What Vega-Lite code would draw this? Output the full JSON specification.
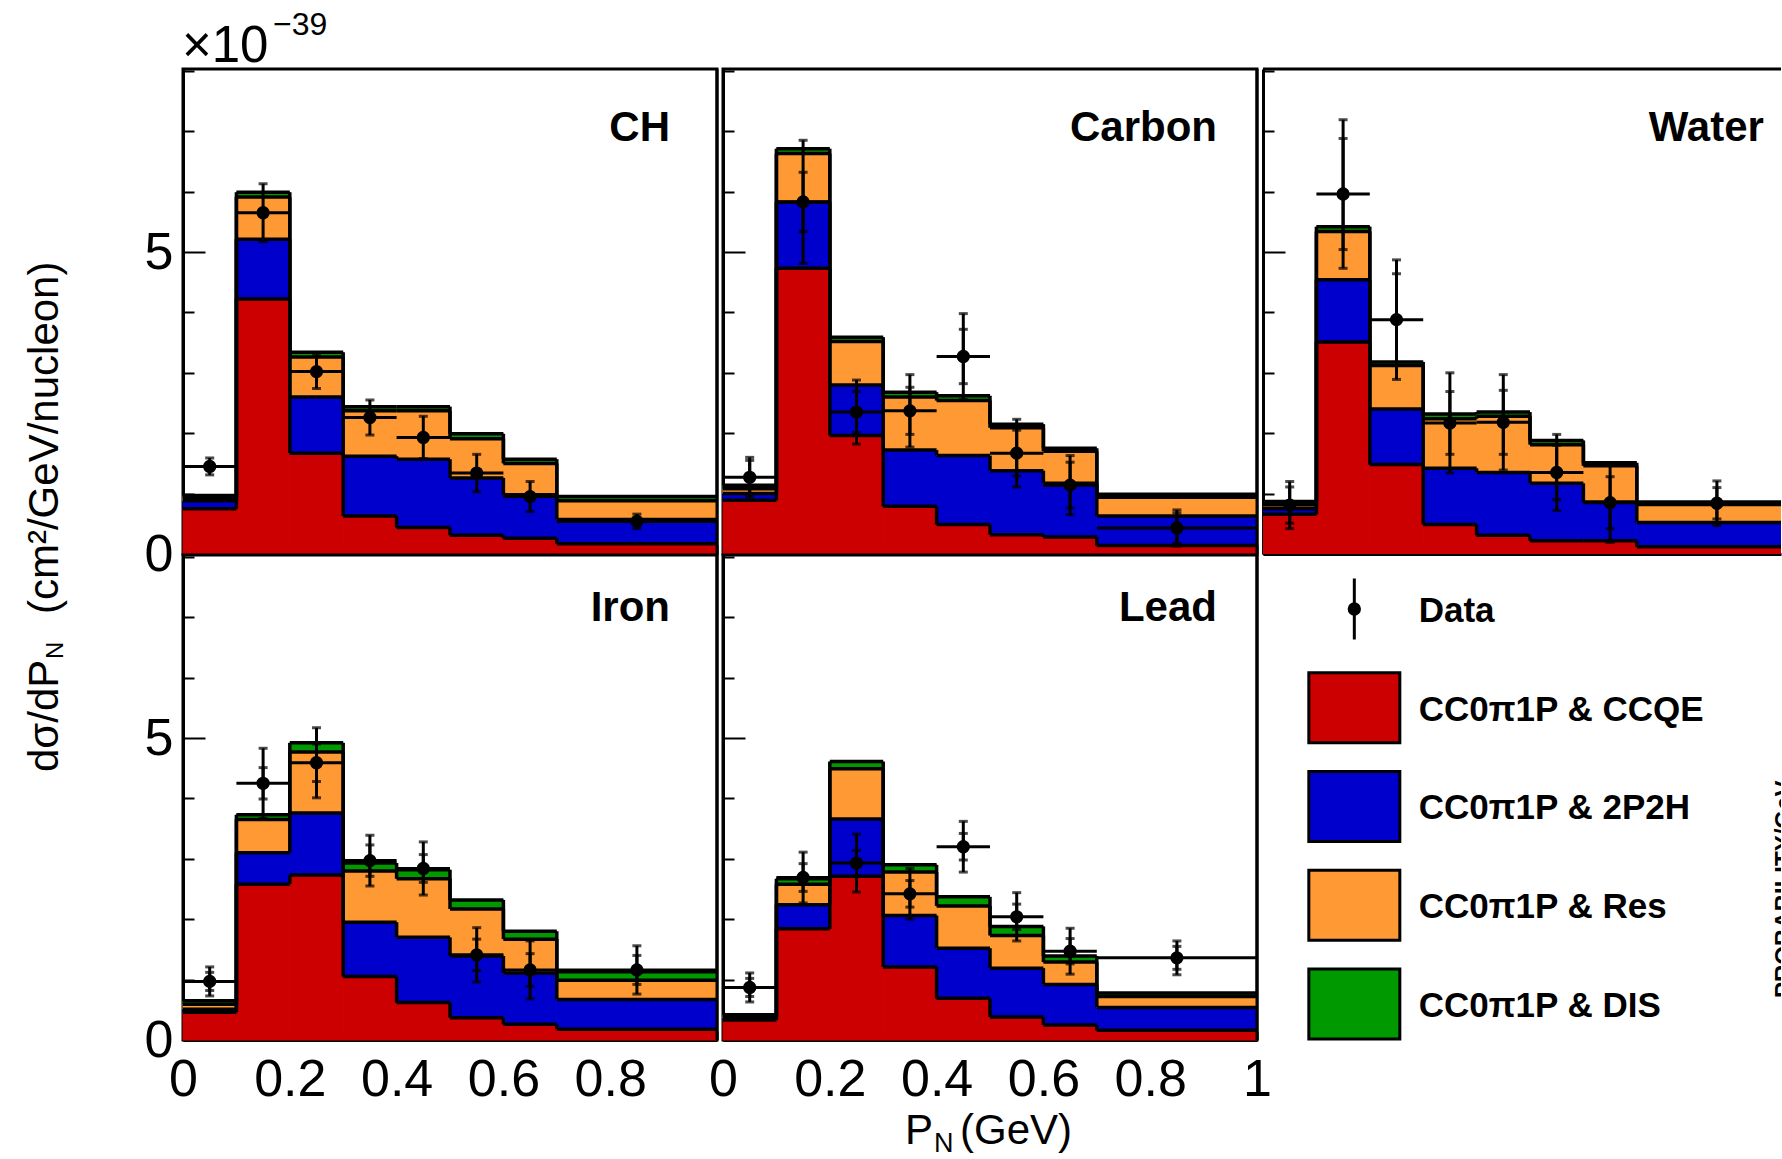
{
  "$schema": "https://vega.github.io/schema/vega-lite/v6.json",
  "background": "white",
  "padding": {"left": 22, "top": 7, "right": 0, "bottom": 0},
  "config": {
    "view": {"stroke": "black", "strokeWidth": 3},
    "font": "Liberation Sans",
    "axis": {
      "grid": false, "domain": true, "domainColor": "black", "domainWidth": 3,
      "tickColor": "black", "tickWidth": 2, "labelColor": "black",
      "labelFont": "Liberation Sans", "labelFontSize": 52,
      "labelFlush": false, "labelOverlap": false, "labelBound": false, "zindex": 1
    },
    "axisY": {"labelBaseline": "middle"},
    "text": {"font": "Liberation Sans", "color": "black"}
  },
  "datasets": {
    "stack": [
      {"t":"CH","lo":0,"hi":0.1,"CCQE":0.75,"2P2H":0.13,"Res":0.06,"DIS":0.03},
      {"t":"CH","lo":0.1,"hi":0.2,"CCQE":4.22,"2P2H":0.99,"Res":0.70,"DIS":0.08},
      {"t":"CH","lo":0.2,"hi":0.3,"CCQE":1.67,"2P2H":0.93,"Res":0.66,"DIS":0.08},
      {"t":"CH","lo":0.3,"hi":0.4,"CCQE":0.63,"2P2H":0.99,"Res":0.75,"DIS":0.07},
      {"t":"CH","lo":0.4,"hi":0.5,"CCQE":0.44,"2P2H":1.13,"Res":0.80,"DIS":0.07},
      {"t":"CH","lo":0.5,"hi":0.6,"CCQE":0.31,"2P2H":0.95,"Res":0.65,"DIS":0.08},
      {"t":"CH","lo":0.6,"hi":0.7,"CCQE":0.26,"2P2H":0.72,"Res":0.52,"DIS":0.07},
      {"t":"CH","lo":0.7,"hi":1.0,"CCQE":0.17,"2P2H":0.40,"Res":0.31,"DIS":0.07},
      {"t":"Carbon","lo":0,"hi":0.1,"CCQE":0.89,"2P2H":0.11,"Res":0.08,"DIS":0.06},
      {"t":"Carbon","lo":0.1,"hi":0.2,"CCQE":4.73,"2P2H":1.10,"Res":0.80,"DIS":0.08},
      {"t":"Carbon","lo":0.2,"hi":0.3,"CCQE":1.96,"2P2H":0.84,"Res":0.72,"DIS":0.07},
      {"t":"Carbon","lo":0.3,"hi":0.4,"CCQE":0.79,"2P2H":0.93,"Res":0.88,"DIS":0.08},
      {"t":"Carbon","lo":0.4,"hi":0.5,"CCQE":0.49,"2P2H":1.14,"Res":0.91,"DIS":0.08},
      {"t":"Carbon","lo":0.5,"hi":0.6,"CCQE":0.32,"2P2H":1.06,"Res":0.71,"DIS":0.06},
      {"t":"Carbon","lo":0.6,"hi":0.7,"CCQE":0.28,"2P2H":0.89,"Res":0.53,"DIS":0.05},
      {"t":"Carbon","lo":0.7,"hi":1.0,"CCQE":0.14,"2P2H":0.49,"Res":0.31,"DIS":0.05},
      {"t":"Water","lo":0,"hi":0.1,"CCQE":0.66,"2P2H":0.09,"Res":0.07,"DIS":0.05},
      {"t":"Water","lo":0.1,"hi":0.2,"CCQE":3.51,"2P2H":1.03,"Res":0.80,"DIS":0.08},
      {"t":"Water","lo":0.2,"hi":0.3,"CCQE":1.48,"2P2H":0.92,"Res":0.72,"DIS":0.06},
      {"t":"Water","lo":0.3,"hi":0.4,"CCQE":0.49,"2P2H":0.93,"Res":0.82,"DIS":0.08},
      {"t":"Water","lo":0.4,"hi":0.5,"CCQE":0.31,"2P2H":1.04,"Res":0.93,"DIS":0.07},
      {"t":"Water","lo":0.5,"hi":0.6,"CCQE":0.22,"2P2H":0.95,"Res":0.64,"DIS":0.07},
      {"t":"Water","lo":0.6,"hi":0.7,"CCQE":0.22,"2P2H":0.64,"Res":0.60,"DIS":0.05},
      {"t":"Water","lo":0.7,"hi":1.0,"CCQE":0.12,"2P2H":0.40,"Res":0.30,"DIS":0.04},
      {"t":"Iron","lo":0,"hi":0.1,"CCQE":0.46,"2P2H":0.05,"Res":0.08,"DIS":0.06},
      {"t":"Iron","lo":0.1,"hi":0.2,"CCQE":2.58,"2P2H":0.52,"Res":0.55,"DIS":0.08},
      {"t":"Iron","lo":0.2,"hi":0.3,"CCQE":2.73,"2P2H":1.03,"Res":1.01,"DIS":0.15},
      {"t":"Iron","lo":0.3,"hi":0.4,"CCQE":1.05,"2P2H":0.90,"Res":0.85,"DIS":0.13},
      {"t":"Iron","lo":0.4,"hi":0.5,"CCQE":0.62,"2P2H":1.08,"Res":0.97,"DIS":0.15},
      {"t":"Iron","lo":0.5,"hi":0.6,"CCQE":0.37,"2P2H":1.02,"Res":0.78,"DIS":0.15},
      {"t":"Iron","lo":0.6,"hi":0.7,"CCQE":0.26,"2P2H":0.85,"Res":0.56,"DIS":0.13},
      {"t":"Iron","lo":0.7,"hi":1.0,"CCQE":0.18,"2P2H":0.49,"Res":0.32,"DIS":0.14},
      {"t":"Lead","lo":0,"hi":0.1,"CCQE":0.33,"2P2H":0.03,"Res":0.03,"DIS":0.03},
      {"t":"Lead","lo":0.1,"hi":0.2,"CCQE":1.84,"2P2H":0.40,"Res":0.34,"DIS":0.09},
      {"t":"Lead","lo":0.2,"hi":0.3,"CCQE":2.71,"2P2H":0.95,"Res":0.83,"DIS":0.12},
      {"t":"Lead","lo":0.3,"hi":0.4,"CCQE":1.21,"2P2H":0.85,"Res":0.72,"DIS":0.12},
      {"t":"Lead","lo":0.4,"hi":0.5,"CCQE":0.69,"2P2H":0.83,"Res":0.70,"DIS":0.15},
      {"t":"Lead","lo":0.5,"hi":0.6,"CCQE":0.38,"2P2H":0.81,"Res":0.54,"DIS":0.15},
      {"t":"Lead","lo":0.6,"hi":0.7,"CCQE":0.25,"2P2H":0.67,"Res":0.37,"DIS":0.10},
      {"t":"Lead","lo":0.7,"hi":1.0,"CCQE":0.16,"2P2H":0.38,"Res":0.18,"DIS":0.06}
    ],
    "points": [
      {"t":"CH","lo":0,"hi":0.1,"pn":0.05,"val":1.45,"tot":0.14,"stat":0.05},
      {"t":"CH","lo":0.1,"hi":0.2,"pn":0.15,"val":5.65,"tot":0.48,"stat":0.05},
      {"t":"CH","lo":0.2,"hi":0.3,"pn":0.25,"val":3.02,"tot":0.28,"stat":0.05},
      {"t":"CH","lo":0.3,"hi":0.4,"pn":0.35,"val":2.26,"tot":0.29,"stat":0.05},
      {"t":"CH","lo":0.4,"hi":0.5,"pn":0.45,"val":1.93,"tot":0.35,"stat":0.05},
      {"t":"CH","lo":0.5,"hi":0.6,"pn":0.55,"val":1.34,"tot":0.31,"stat":0.05},
      {"t":"CH","lo":0.6,"hi":0.7,"pn":0.65,"val":0.95,"tot":0.25,"stat":0.05},
      {"t":"CH","lo":0.7,"hi":1.0,"pn":0.85,"val":0.54,"tot":0.12,"stat":0.05},
      {"t":"Carbon","lo":0,"hi":0.1,"pn":0.05,"val":1.27,"tot":0.33,"stat":0.28},
      {"t":"Carbon","lo":0.1,"hi":0.2,"pn":0.15,"val":5.83,"tot":1.02,"stat":0.49},
      {"t":"Carbon","lo":0.2,"hi":0.3,"pn":0.25,"val":2.35,"tot":0.53,"stat":0.34},
      {"t":"Carbon","lo":0.3,"hi":0.4,"pn":0.35,"val":2.37,"tot":0.60,"stat":0.39},
      {"t":"Carbon","lo":0.4,"hi":0.5,"pn":0.45,"val":3.27,"tot":0.71,"stat":0.45},
      {"t":"Carbon","lo":0.5,"hi":0.6,"pn":0.55,"val":1.67,"tot":0.56,"stat":0.38},
      {"t":"Carbon","lo":0.6,"hi":0.7,"pn":0.65,"val":1.14,"tot":0.49,"stat":0.38},
      {"t":"Carbon","lo":0.7,"hi":1.0,"pn":0.85,"val":0.43,"tot":0.30,"stat":0.25},
      {"t":"Water","lo":0,"hi":0.1,"pn":0.05,"val":0.81,"tot":0.39,"stat":0.30},
      {"t":"Water","lo":0.1,"hi":0.2,"pn":0.15,"val":5.96,"tot":1.23,"stat":0.92},
      {"t":"Water","lo":0.2,"hi":0.3,"pn":0.25,"val":3.88,"tot":0.99,"stat":0.76},
      {"t":"Water","lo":0.3,"hi":0.4,"pn":0.35,"val":2.17,"tot":0.83,"stat":0.52},
      {"t":"Water","lo":0.4,"hi":0.5,"pn":0.45,"val":2.18,"tot":0.79,"stat":0.53},
      {"t":"Water","lo":0.5,"hi":0.6,"pn":0.55,"val":1.35,"tot":0.63,"stat":0.45},
      {"t":"Water","lo":0.6,"hi":0.7,"pn":0.65,"val":0.85,"tot":0.66,"stat":0.43},
      {"t":"Water","lo":0.7,"hi":1.0,"pn":0.85,"val":0.84,"tot":0.37,"stat":0.26},
      {"t":"Iron","lo":0,"hi":0.1,"pn":0.05,"val":0.97,"tot":0.24,"stat":0.15},
      {"t":"Iron","lo":0.1,"hi":0.2,"pn":0.15,"val":4.25,"tot":0.58,"stat":0.26},
      {"t":"Iron","lo":0.2,"hi":0.3,"pn":0.25,"val":4.59,"tot":0.58,"stat":0.31},
      {"t":"Iron","lo":0.3,"hi":0.4,"pn":0.35,"val":2.97,"tot":0.42,"stat":0.26},
      {"t":"Iron","lo":0.4,"hi":0.5,"pn":0.45,"val":2.84,"tot":0.44,"stat":0.23},
      {"t":"Iron","lo":0.5,"hi":0.6,"pn":0.55,"val":1.41,"tot":0.45,"stat":0.26},
      {"t":"Iron","lo":0.6,"hi":0.7,"pn":0.65,"val":1.16,"tot":0.48,"stat":0.27},
      {"t":"Iron","lo":0.7,"hi":1.0,"pn":0.85,"val":1.16,"tot":0.40,"stat":0.24},
      {"t":"Lead","lo":0,"hi":0.1,"pn":0.05,"val":0.87,"tot":0.24,"stat":0.15},
      {"t":"Lead","lo":0.1,"hi":0.2,"pn":0.15,"val":2.69,"tot":0.42,"stat":0.23},
      {"t":"Lead","lo":0.2,"hi":0.3,"pn":0.25,"val":2.93,"tot":0.48,"stat":0.21},
      {"t":"Lead","lo":0.3,"hi":0.4,"pn":0.35,"val":2.42,"tot":0.42,"stat":0.22},
      {"t":"Lead","lo":0.4,"hi":0.5,"pn":0.45,"val":3.20,"tot":0.42,"stat":0.22},
      {"t":"Lead","lo":0.5,"hi":0.6,"pn":0.55,"val":2.04,"tot":0.40,"stat":0.21},
      {"t":"Lead","lo":0.6,"hi":0.7,"pn":0.65,"val":1.47,"tot":0.38,"stat":0.21},
      {"t":"Lead","lo":0.7,"hi":1.0,"pn":0.85,"val":1.36,"tot":0.28,"stat":0.19}
    ],
    "legend": [
      {"idx":0,"label":"Data","mode":null},
      {"idx":1,"label":"CC0π1P & CCQE","mode":"CCQE"},
      {"idx":2,"label":"CC0π1P & 2P2H","mode":"2P2H"},
      {"idx":3,"label":"CC0π1P & Res","mode":"Res"},
      {"idx":4,"label":"CC0π1P & DIS","mode":"DIS"}
    ]
  },
  "columns": 3,
  "spacing": {"row": 1, "column": 6},
  "bounds": "flush",
  "concat": [
    {
      "width": 534, "height": 485,
      "layer": [
        {
          "data": {"name": "stack"},
          "transform": [
            {"filter": "datum.t === 'CH'"},
            {"fold": ["CCQE", "2P2H", "Res", "DIS"], "as": ["mode", "v"]},
            {"calculate": "indexof(['CCQE','2P2H','Res','DIS'], datum.mode)", "as": "k"},
            {"window": [{"op": "sum", "field": "v", "as": "top"}], "groupby": ["lo"], "sort": [{"field": "k", "order": "ascending"}], "frame": [null, 0]},
            {"calculate": "datum.top - datum.v", "as": "base"},
            {"window": [{"op": "lag", "field": "top", "as": "prev"}], "groupby": ["mode"], "sort": [{"field": "lo", "order": "ascending"}]}
          ],
          "layer": [
            {"mark": {"type": "rect", "strokeWidth": 1},
             "encoding": {
               "x": {"field": "lo", "type": "quantitative", "title": null, "scale": {"domain": [0, 1], "nice": false, "zero": false},
                     "axis": {"title": null, "values": [0,0.05,0.1,0.15,0.2,0.25,0.3,0.35,0.4,0.45,0.5,0.55,0.6,0.65,0.7,0.75,0.8,0.85,0.9,0.95,1],
                              "tickSize": {"condition": {"test": "abs(datum.value*10-round(datum.value*10)) < 0.01", "value": -9}, "value": -5},
                              "labels": false}},
               "x2": {"field": "hi", "title": null},
               "y": {"field": "base", "type": "quantitative", "title": null, "scale": {"domain": [0, 8.03], "nice": false, "zero": false},
                     "axis": {"title": null, "values": [0,1,2,3,4,5,6,7,8],
                              "tickSize": {"condition": {"test": "datum.value % 5 === 0", "value": -22}, "value": -11},
                              "labelExpr": "datum.value === 0 ? '0' : datum.value === 5 ? '5' : ''", "labelPadding": 32}},
               "y2": {"field": "top", "title": null},
               "color": {"field": "mode", "type": "nominal", "scale": {"domain": ["CCQE","2P2H","Res","DIS"], "range": ["#cc0000","#0000cc","#ff9933","#009900"]}, "legend": null},
               "stroke": {"field": "mode", "type": "nominal", "scale": {"domain": ["CCQE","2P2H","Res","DIS"], "range": ["#cc0000","#0000cc","#ff9933","#009900"]}, "legend": null}
             }},
            {"mark": {"type": "rule", "color": "black", "strokeWidth": 3.5},
             "encoding": {"x": {"field": "lo", "type": "quantitative", "title": null}, "x2": {"field": "hi", "title": null}, "y": {"field": "top", "type": "quantitative", "title": null}}},
            {"transform": [{"filter": "datum.prev != null"}],
             "mark": {"type": "rule", "color": "black", "strokeWidth": 3.5},
             "encoding": {"x": {"field": "lo", "type": "quantitative", "title": null}, "y": {"field": "prev", "type": "quantitative", "title": null}, "y2": {"field": "top", "title": null}}}
          ]
        },
        {
          "data": {"name": "points"},
          "transform": [{"filter": "datum.t === 'CH'"}],
          "layer": [
            {"mark": {"type": "rule", "color": "black", "strokeWidth": 3},
             "encoding": {"x": {"field": "lo", "type": "quantitative", "title": null}, "x2": {"field": "hi", "title": null}, "y": {"field": "val", "type": "quantitative", "title": null}}},
            {"mark": {"type": "errorbar", "color": "black", "thickness": 3, "rule": {"strokeWidth": 3}, "ticks": {"size": 9, "thickness": 3, "color": "black"}},
             "encoding": {"x": {"field": "pn", "type": "quantitative", "title": null}, "y": {"field": "val", "type": "quantitative", "title": null}, "yError": {"field": "tot"}}},
            {"mark": {"type": "errorbar", "color": "black", "thickness": 3, "rule": {"strokeWidth": 3}, "ticks": {"size": 9, "thickness": 3, "color": "black"}},
             "encoding": {"x": {"field": "pn", "type": "quantitative", "title": null}, "y": {"field": "val", "type": "quantitative", "title": null}, "yError": {"field": "stat"}}},
            {"mark": {"type": "point", "shape": "circle", "filled": true, "size": 177, "color": "black", "opacity": 1},
             "encoding": {"x": {"field": "pn", "type": "quantitative", "title": null}, "y": {"field": "val", "type": "quantitative", "title": null}}}
          ]
        },
        {"data": {"values": [{"name": "CH"}]},
         "mark": {"type": "text", "fontWeight": "bold", "fontSize": 42, "align": "right", "baseline": "alphabetic"},
         "encoding": {"x": {"datum": 0.912}, "y": {"datum": 6.838}, "text": {"field": "name"}}},
        {"data": {"values": [{}]},
         "mark": {"type": "text", "text": "×10", "fontSize": 51, "align": "left", "baseline": "alphabetic"},
         "encoding": {"x": {"datum": -0.002}, "y": {"datum": 8.146}}},
        {"data": {"values": [{}]},
         "mark": {"type": "text", "text": "−39", "fontSize": 32, "align": "left", "baseline": "alphabetic"},
         "encoding": {"x": {"datum": 0.1685}, "y": {"datum": 8.593}}},
        {"data": {"values": [{}]},
         "mark": {"type": "rule", "color": "black", "strokeWidth": 3},
         "encoding": {"x": {"datum": 1}}}
      ]
    },
    {
      "width": 534, "height": 485,
      "layer": [
        {
          "data": {"name": "stack"},
          "transform": [
            {"filter": "datum.t === 'Carbon'"},
            {"fold": ["CCQE", "2P2H", "Res", "DIS"], "as": ["mode", "v"]},
            {"calculate": "indexof(['CCQE','2P2H','Res','DIS'], datum.mode)", "as": "k"},
            {"window": [{"op": "sum", "field": "v", "as": "top"}], "groupby": ["lo"], "sort": [{"field": "k", "order": "ascending"}], "frame": [null, 0]},
            {"calculate": "datum.top - datum.v", "as": "base"},
            {"window": [{"op": "lag", "field": "top", "as": "prev"}], "groupby": ["mode"], "sort": [{"field": "lo", "order": "ascending"}]}
          ],
          "layer": [
            {"mark": {"type": "rect", "strokeWidth": 1},
             "encoding": {
               "x": {"field": "lo", "type": "quantitative", "title": null, "scale": {"domain": [0, 1], "nice": false, "zero": false},
                     "axis": {"title": null, "values": [0,0.05,0.1,0.15,0.2,0.25,0.3,0.35,0.4,0.45,0.5,0.55,0.6,0.65,0.7,0.75,0.8,0.85,0.9,0.95,1],
                              "tickSize": {"condition": {"test": "abs(datum.value*10-round(datum.value*10)) < 0.01", "value": -9}, "value": -5},
                              "labels": false}},
               "x2": {"field": "hi", "title": null},
               "y": {"field": "base", "type": "quantitative", "title": null, "scale": {"domain": [0, 8.03], "nice": false, "zero": false},
                     "axis": {"title": null, "values": [0,1,2,3,4,5,6,7,8],
                              "tickSize": {"condition": {"test": "datum.value % 5 === 0", "value": -22}, "value": -11},
                              "labels": false}},
               "y2": {"field": "top", "title": null},
               "color": {"field": "mode", "type": "nominal", "scale": {"domain": ["CCQE","2P2H","Res","DIS"], "range": ["#cc0000","#0000cc","#ff9933","#009900"]}, "legend": null},
               "stroke": {"field": "mode", "type": "nominal", "scale": {"domain": ["CCQE","2P2H","Res","DIS"], "range": ["#cc0000","#0000cc","#ff9933","#009900"]}, "legend": null}
             }},
            {"mark": {"type": "rule", "color": "black", "strokeWidth": 3.5},
             "encoding": {"x": {"field": "lo", "type": "quantitative", "title": null}, "x2": {"field": "hi", "title": null}, "y": {"field": "top", "type": "quantitative", "title": null}}},
            {"transform": [{"filter": "datum.prev != null"}],
             "mark": {"type": "rule", "color": "black", "strokeWidth": 3.5},
             "encoding": {"x": {"field": "lo", "type": "quantitative", "title": null}, "y": {"field": "prev", "type": "quantitative", "title": null}, "y2": {"field": "top", "title": null}}}
          ]
        },
        {
          "data": {"name": "points"},
          "transform": [{"filter": "datum.t === 'Carbon'"}],
          "layer": [
            {"mark": {"type": "rule", "color": "black", "strokeWidth": 3},
             "encoding": {"x": {"field": "lo", "type": "quantitative", "title": null}, "x2": {"field": "hi", "title": null}, "y": {"field": "val", "type": "quantitative", "title": null}}},
            {"mark": {"type": "errorbar", "color": "black", "thickness": 3, "rule": {"strokeWidth": 3}, "ticks": {"size": 9, "thickness": 3, "color": "black"}},
             "encoding": {"x": {"field": "pn", "type": "quantitative", "title": null}, "y": {"field": "val", "type": "quantitative", "title": null}, "yError": {"field": "tot"}}},
            {"mark": {"type": "errorbar", "color": "black", "thickness": 3, "rule": {"strokeWidth": 3}, "ticks": {"size": 9, "thickness": 3, "color": "black"}},
             "encoding": {"x": {"field": "pn", "type": "quantitative", "title": null}, "y": {"field": "val", "type": "quantitative", "title": null}, "yError": {"field": "stat"}}},
            {"mark": {"type": "point", "shape": "circle", "filled": true, "size": 177, "color": "black", "opacity": 1},
             "encoding": {"x": {"field": "pn", "type": "quantitative", "title": null}, "y": {"field": "val", "type": "quantitative", "title": null}}}
          ]
        },
        {"data": {"values": [{"name": "Carbon"}]},
         "mark": {"type": "text", "fontWeight": "bold", "fontSize": 42, "align": "right", "baseline": "alphabetic"},
         "encoding": {"x": {"datum": 0.925}, "y": {"datum": 6.838}, "text": {"field": "name"}}},
        {"data": {"values": [{}]},
         "mark": {"type": "rule", "color": "black", "strokeWidth": 3},
         "encoding": {"x": {"datum": 1}}}
      ]
    },
    {
      "width": 518, "height": 485,
      "view": {"stroke": null},
      "layer": [
        {
          "data": {"name": "stack"},
          "transform": [
            {"filter": "datum.t === 'Water'"},
            {"fold": ["CCQE", "2P2H", "Res", "DIS"], "as": ["mode", "v"]},
            {"calculate": "indexof(['CCQE','2P2H','Res','DIS'], datum.mode)", "as": "k"},
            {"window": [{"op": "sum", "field": "v", "as": "top"}], "groupby": ["lo"], "sort": [{"field": "k", "order": "ascending"}], "frame": [null, 0]},
            {"calculate": "datum.top - datum.v", "as": "base"},
            {"window": [{"op": "lag", "field": "top", "as": "prev"}], "groupby": ["mode"], "sort": [{"field": "lo", "order": "ascending"}]}
          ],
          "layer": [
            {"mark": {"type": "rect", "clip": true, "strokeWidth": 1},
             "encoding": {
               "x": {"field": "lo", "type": "quantitative", "title": null, "scale": {"domain": [0, 0.97004], "nice": false, "zero": false},
                     "axis": {"title": null, "values": [0,0.05,0.1,0.15,0.2,0.25,0.3,0.35,0.4,0.45,0.5,0.55,0.6,0.65,0.7,0.75,0.8,0.85,0.9,0.95],
                              "tickSize": {"condition": {"test": "abs(datum.value*10-round(datum.value*10)) < 0.01", "value": -9}, "value": -5},
                              "labels": false}},
               "x2": {"field": "hi", "title": null},
               "y": {"field": "base", "type": "quantitative", "title": null, "scale": {"domain": [0, 8.03], "nice": false, "zero": false},
                     "axis": {"title": null, "values": [0,1,2,3,4,5,6,7,8],
                              "tickSize": {"condition": {"test": "datum.value % 5 === 0", "value": -22}, "value": -11},
                              "labels": false}},
               "y2": {"field": "top", "title": null},
               "color": {"field": "mode", "type": "nominal", "scale": {"domain": ["CCQE","2P2H","Res","DIS"], "range": ["#cc0000","#0000cc","#ff9933","#009900"]}, "legend": null},
               "stroke": {"field": "mode", "type": "nominal", "scale": {"domain": ["CCQE","2P2H","Res","DIS"], "range": ["#cc0000","#0000cc","#ff9933","#009900"]}, "legend": null}
             }},
            {"mark": {"type": "rule", "color": "black", "strokeWidth": 3.5, "clip": true},
             "encoding": {"x": {"field": "lo", "type": "quantitative", "title": null}, "x2": {"field": "hi", "title": null}, "y": {"field": "top", "type": "quantitative", "title": null}}},
            {"transform": [{"filter": "datum.prev != null"}],
             "mark": {"type": "rule", "color": "black", "strokeWidth": 3.5},
             "encoding": {"x": {"field": "lo", "type": "quantitative", "title": null}, "y": {"field": "prev", "type": "quantitative", "title": null}, "y2": {"field": "top", "title": null}}}
          ]
        },
        {
          "data": {"name": "points"},
          "transform": [{"filter": "datum.t === 'Water'"}],
          "layer": [
            {"mark": {"type": "rule", "color": "black", "strokeWidth": 3, "clip": true},
             "encoding": {"x": {"field": "lo", "type": "quantitative", "title": null}, "x2": {"field": "hi", "title": null}, "y": {"field": "val", "type": "quantitative", "title": null}}},
            {"mark": {"type": "errorbar", "color": "black", "thickness": 3, "rule": {"strokeWidth": 3}, "ticks": {"size": 9, "thickness": 3, "color": "black"}},
             "encoding": {"x": {"field": "pn", "type": "quantitative", "title": null}, "y": {"field": "val", "type": "quantitative", "title": null}, "yError": {"field": "tot"}}},
            {"mark": {"type": "errorbar", "color": "black", "thickness": 3, "rule": {"strokeWidth": 3}, "ticks": {"size": 9, "thickness": 3, "color": "black"}},
             "encoding": {"x": {"field": "pn", "type": "quantitative", "title": null}, "y": {"field": "val", "type": "quantitative", "title": null}, "yError": {"field": "stat"}}},
            {"mark": {"type": "point", "shape": "circle", "filled": true, "size": 177, "color": "black", "opacity": 1},
             "encoding": {"x": {"field": "pn", "type": "quantitative", "title": null}, "y": {"field": "val", "type": "quantitative", "title": null}}}
          ]
        },
        {"data": {"values": [{"name": "Water"}]},
         "mark": {"type": "text", "fontWeight": "bold", "fontSize": 42, "align": "right", "baseline": "alphabetic"},
         "encoding": {"x": {"datum": 0.938}, "y": {"datum": 6.838}, "text": {"field": "name"}}},
        {"data": {"values": [{}]},
         "mark": {"type": "rule", "color": "black", "strokeWidth": 3},
         "encoding": {"y": {"datum": 8.03}}}
      ]
    },
    {
      "width": 534, "height": 485,
      "layer": [
        {
          "data": {"name": "stack"},
          "transform": [
            {"filter": "datum.t === 'Iron'"},
            {"fold": ["CCQE", "2P2H", "Res", "DIS"], "as": ["mode", "v"]},
            {"calculate": "indexof(['CCQE','2P2H','Res','DIS'], datum.mode)", "as": "k"},
            {"window": [{"op": "sum", "field": "v", "as": "top"}], "groupby": ["lo"], "sort": [{"field": "k", "order": "ascending"}], "frame": [null, 0]},
            {"calculate": "datum.top - datum.v", "as": "base"},
            {"window": [{"op": "lag", "field": "top", "as": "prev"}], "groupby": ["mode"], "sort": [{"field": "lo", "order": "ascending"}]}
          ],
          "layer": [
            {"mark": {"type": "rect", "strokeWidth": 1},
             "encoding": {
               "x": {"field": "lo", "type": "quantitative", "title": null, "scale": {"domain": [0, 1], "nice": false, "zero": false},
                     "axis": {"title": null, "values": [0,0.05,0.1,0.15,0.2,0.25,0.3,0.35,0.4,0.45,0.5,0.55,0.6,0.65,0.7,0.75,0.8,0.85,0.9,0.95,1],
                              "tickSize": {"condition": {"test": "abs(datum.value*10-round(datum.value*10)) < 0.01", "value": -9}, "value": -5},
                              "labelExpr": "abs(datum.value*5-round(datum.value*5)) < 0.01 && datum.value < 0.99 ? (datum.value == 0 ? '0' : format(datum.value, '.1f')) : ''",
                              "labelPadding": 23}},
               "x2": {"field": "hi", "title": null},
               "y": {"field": "base", "type": "quantitative", "title": null, "scale": {"domain": [0, 8.03], "nice": false, "zero": false},
                     "axis": {"title": null, "values": [0,1,2,3,4,5,6,7,8],
                              "tickSize": {"condition": {"test": "datum.value % 5 === 0", "value": -22}, "value": -11},
                              "labelExpr": "datum.value === 0 ? '0' : datum.value === 5 ? '5' : ''", "labelPadding": 32}},
               "y2": {"field": "top", "title": null},
               "color": {"field": "mode", "type": "nominal", "scale": {"domain": ["CCQE","2P2H","Res","DIS"], "range": ["#cc0000","#0000cc","#ff9933","#009900"]}, "legend": null},
               "stroke": {"field": "mode", "type": "nominal", "scale": {"domain": ["CCQE","2P2H","Res","DIS"], "range": ["#cc0000","#0000cc","#ff9933","#009900"]}, "legend": null}
             }},
            {"mark": {"type": "rule", "color": "black", "strokeWidth": 3.5},
             "encoding": {"x": {"field": "lo", "type": "quantitative", "title": null}, "x2": {"field": "hi", "title": null}, "y": {"field": "top", "type": "quantitative", "title": null}}},
            {"transform": [{"filter": "datum.prev != null"}],
             "mark": {"type": "rule", "color": "black", "strokeWidth": 3.5},
             "encoding": {"x": {"field": "lo", "type": "quantitative", "title": null}, "y": {"field": "prev", "type": "quantitative", "title": null}, "y2": {"field": "top", "title": null}}}
          ]
        },
        {
          "data": {"name": "points"},
          "transform": [{"filter": "datum.t === 'Iron'"}],
          "layer": [
            {"mark": {"type": "rule", "color": "black", "strokeWidth": 3},
             "encoding": {"x": {"field": "lo", "type": "quantitative", "title": null}, "x2": {"field": "hi", "title": null}, "y": {"field": "val", "type": "quantitative", "title": null}}},
            {"mark": {"type": "errorbar", "color": "black", "thickness": 3, "rule": {"strokeWidth": 3}, "ticks": {"size": 9, "thickness": 3, "color": "black"}},
             "encoding": {"x": {"field": "pn", "type": "quantitative", "title": null}, "y": {"field": "val", "type": "quantitative", "title": null}, "yError": {"field": "tot"}}},
            {"mark": {"type": "errorbar", "color": "black", "thickness": 3, "rule": {"strokeWidth": 3}, "ticks": {"size": 9, "thickness": 3, "color": "black"}},
             "encoding": {"x": {"field": "pn", "type": "quantitative", "title": null}, "y": {"field": "val", "type": "quantitative", "title": null}, "yError": {"field": "stat"}}},
            {"mark": {"type": "point", "shape": "circle", "filled": true, "size": 177, "color": "black", "opacity": 1},
             "encoding": {"x": {"field": "pn", "type": "quantitative", "title": null}, "y": {"field": "val", "type": "quantitative", "title": null}}}
          ]
        },
        {"data": {"values": [{"name": "Iron"}]},
         "mark": {"type": "text", "fontWeight": "bold", "fontSize": 42, "align": "right", "baseline": "alphabetic"},
         "encoding": {"x": {"datum": 0.912}, "y": {"datum": 6.937}, "text": {"field": "name"}}},
        {"data": {"values": [{}]},
         "mark": {"type": "text", "text": "dσ/dP", "fontSize": 42, "angle": 270, "align": "left", "baseline": "alphabetic"},
         "encoding": {"x": {"datum": -0.2341}, "y": {"datum": 4.437}}},
        {"data": {"values": [{}]},
         "mark": {"type": "text", "text": "N", "fontSize": 24, "angle": 270, "align": "left", "baseline": "alphabetic"},
         "encoding": {"x": {"datum": -0.2247}, "y": {"datum": 6.308}}},
        {"data": {"values": [{}]},
         "mark": {"type": "text", "text": "(cm²/GeV/nucleon)", "fontSize": 42, "angle": 270, "align": "left", "baseline": "alphabetic"},
         "encoding": {"x": {"datum": -0.2341}, "y": {"datum": 7.053}}},
        {"data": {"values": [{}]},
         "mark": {"type": "rule", "color": "black", "strokeWidth": 3},
         "encoding": {"x": {"datum": 1}}}
      ]
    },
    {
      "width": 534, "height": 485,
      "layer": [
        {
          "data": {"name": "stack"},
          "transform": [
            {"filter": "datum.t === 'Lead'"},
            {"fold": ["CCQE", "2P2H", "Res", "DIS"], "as": ["mode", "v"]},
            {"calculate": "indexof(['CCQE','2P2H','Res','DIS'], datum.mode)", "as": "k"},
            {"window": [{"op": "sum", "field": "v", "as": "top"}], "groupby": ["lo"], "sort": [{"field": "k", "order": "ascending"}], "frame": [null, 0]},
            {"calculate": "datum.top - datum.v", "as": "base"},
            {"window": [{"op": "lag", "field": "top", "as": "prev"}], "groupby": ["mode"], "sort": [{"field": "lo", "order": "ascending"}]}
          ],
          "layer": [
            {"mark": {"type": "rect", "strokeWidth": 1},
             "encoding": {
               "x": {"field": "lo", "type": "quantitative", "title": null, "scale": {"domain": [0, 1], "nice": false, "zero": false},
                     "axis": {"title": null, "values": [0,0.05,0.1,0.15,0.2,0.25,0.3,0.35,0.4,0.45,0.5,0.55,0.6,0.65,0.7,0.75,0.8,0.85,0.9,0.95,1],
                              "tickSize": {"condition": {"test": "abs(datum.value*10-round(datum.value*10)) < 0.01", "value": -9}, "value": -5},
                              "labelExpr": "abs(datum.value*5-round(datum.value*5)) < 0.01 ? (datum.value == 0 ? '0' : datum.value > 0.99 ? '1' : format(datum.value, '.1f')) : ''",
                              "labelPadding": 23}},
               "x2": {"field": "hi", "title": null},
               "y": {"field": "base", "type": "quantitative", "title": null, "scale": {"domain": [0, 8.03], "nice": false, "zero": false},
                     "axis": {"title": null, "values": [0,1,2,3,4,5,6,7,8],
                              "tickSize": {"condition": {"test": "datum.value % 5 === 0", "value": -22}, "value": -11},
                              "labels": false}},
               "y2": {"field": "top", "title": null},
               "color": {"field": "mode", "type": "nominal", "scale": {"domain": ["CCQE","2P2H","Res","DIS"], "range": ["#cc0000","#0000cc","#ff9933","#009900"]}, "legend": null},
               "stroke": {"field": "mode", "type": "nominal", "scale": {"domain": ["CCQE","2P2H","Res","DIS"], "range": ["#cc0000","#0000cc","#ff9933","#009900"]}, "legend": null}
             }},
            {"mark": {"type": "rule", "color": "black", "strokeWidth": 3.5},
             "encoding": {"x": {"field": "lo", "type": "quantitative", "title": null}, "x2": {"field": "hi", "title": null}, "y": {"field": "top", "type": "quantitative", "title": null}}},
            {"transform": [{"filter": "datum.prev != null"}],
             "mark": {"type": "rule", "color": "black", "strokeWidth": 3.5},
             "encoding": {"x": {"field": "lo", "type": "quantitative", "title": null}, "y": {"field": "prev", "type": "quantitative", "title": null}, "y2": {"field": "top", "title": null}}}
          ]
        },
        {
          "data": {"name": "points"},
          "transform": [{"filter": "datum.t === 'Lead'"}],
          "layer": [
            {"mark": {"type": "rule", "color": "black", "strokeWidth": 3},
             "encoding": {"x": {"field": "lo", "type": "quantitative", "title": null}, "x2": {"field": "hi", "title": null}, "y": {"field": "val", "type": "quantitative", "title": null}}},
            {"mark": {"type": "errorbar", "color": "black", "thickness": 3, "rule": {"strokeWidth": 3}, "ticks": {"size": 9, "thickness": 3, "color": "black"}},
             "encoding": {"x": {"field": "pn", "type": "quantitative", "title": null}, "y": {"field": "val", "type": "quantitative", "title": null}, "yError": {"field": "tot"}}},
            {"mark": {"type": "errorbar", "color": "black", "thickness": 3, "rule": {"strokeWidth": 3}, "ticks": {"size": 9, "thickness": 3, "color": "black"}},
             "encoding": {"x": {"field": "pn", "type": "quantitative", "title": null}, "y": {"field": "val", "type": "quantitative", "title": null}, "yError": {"field": "stat"}}},
            {"mark": {"type": "point", "shape": "circle", "filled": true, "size": 177, "color": "black", "opacity": 1},
             "encoding": {"x": {"field": "pn", "type": "quantitative", "title": null}, "y": {"field": "val", "type": "quantitative", "title": null}}}
          ]
        },
        {"data": {"values": [{"name": "Lead"}]},
         "mark": {"type": "text", "fontWeight": "bold", "fontSize": 42, "align": "right", "baseline": "alphabetic"},
         "encoding": {"x": {"datum": 0.925}, "y": {"datum": 6.937}, "text": {"field": "name"}}},
        {"data": {"values": [{}]},
         "mark": {"type": "text", "text": "P", "fontSize": 42, "align": "left", "baseline": "alphabetic"},
         "encoding": {"x": {"datum": 0.3408}, "y": {"datum": -1.722}}},
        {"data": {"values": [{}]},
         "mark": {"type": "text", "text": "N", "fontSize": 27, "align": "left", "baseline": "alphabetic"},
         "encoding": {"x": {"datum": 0.3951}, "y": {"datum": -1.854}}},
        {"data": {"values": [{}]},
         "mark": {"type": "text", "text": "(GeV)", "fontSize": 42, "align": "left", "baseline": "alphabetic"},
         "encoding": {"x": {"datum": 0.4438}, "y": {"datum": -1.722}}},
        {"data": {"values": [{}]},
         "mark": {"type": "rule", "color": "black", "strokeWidth": 3},
         "encoding": {"x": {"datum": 1}}}
      ]
    },
    {
      "width": 518, "height": 485,
      "view": {"stroke": null},
      "data": {"name": "legend"},
      "layer": [
        {"transform": [{"filter": "datum.mode != null"}],
         "mark": {"type": "point", "shape": "M-1,-0.769H1V0.769H-1Z", "size": 8281, "filled": true, "stroke": "black", "strokeWidth": 3, "opacity": 1, "fillOpacity": 1},
         "encoding": {
           "x": {"datum": 0.1763, "type": "quantitative", "scale": {"domain": [0, 1], "nice": false, "zero": false}, "axis": null},
           "y": {"field": "idx", "type": "quantitative", "scale": {"domain": [-0.5468, 4.3646], "reverse": true, "nice": false, "zero": false}, "axis": null},
           "fill": {"field": "mode", "type": "nominal", "scale": {"domain": ["CCQE","2P2H","Res","DIS"], "range": ["#cc0000","#0000cc","#ff9933","#009900"]}, "legend": null}
         }},
        {"transform": [{"filter": "datum.idx === 0"}],
         "mark": {"type": "point", "shape": "M0,-1L0,1", "size": 3721, "filled": false, "stroke": "black", "strokeWidth": 3, "opacity": 1},
         "encoding": {"x": {"datum": 0.1763, "type": "quantitative"}, "y": {"field": "idx", "type": "quantitative"}}},
        {"transform": [{"filter": "datum.idx === 0"}],
         "mark": {"type": "point", "shape": "circle", "filled": true, "size": 177, "color": "black", "opacity": 1},
         "encoding": {"x": {"datum": 0.1763, "type": "quantitative"}, "y": {"field": "idx", "type": "quantitative"}}},
        {"mark": {"type": "text", "fontWeight": "bold", "fontSize": 35, "align": "left", "baseline": "alphabetic", "dy": 13},
         "encoding": {"x": {"datum": 0.3006, "type": "quantitative"}, "y": {"field": "idx", "type": "quantitative"}, "text": {"field": "label"}}},
        {"transform": [{"filter": "datum.idx === 0"}],
         "mark": {"type": "text", "text": "PROBABILITY/GeV", "fontWeight": "bold", "fontSize": 24, "angle": 270, "align": "left", "baseline": "alphabetic", "clip": true},
         "encoding": {"x": {"datum": 1.0212, "type": "quantitative"}, "y": {"datum": 3.939, "type": "quantitative"}}}
      ]
    }
  ]
}
